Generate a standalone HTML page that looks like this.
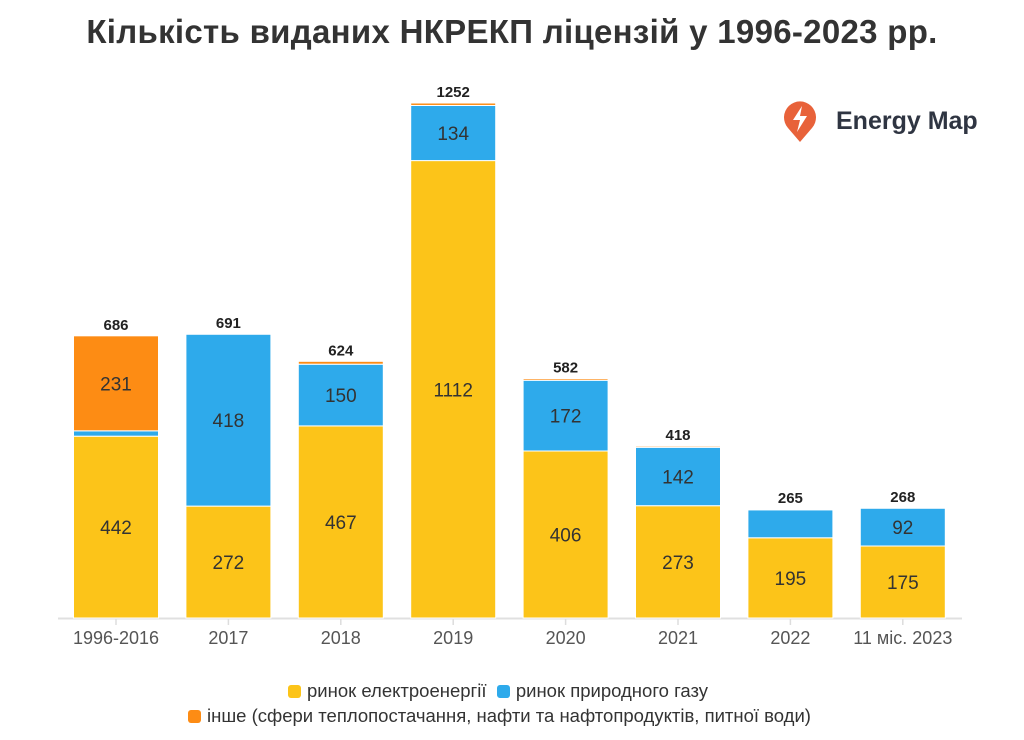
<!DOCTYPE html>
<html><head><meta charset="utf-8"><style>
body{margin:0;width:1024px;height:740px;background:#fff;font-family:"Liberation Sans","DejaVu Sans",sans-serif;overflow:hidden}
#title{position:absolute;top:13px;left:0;width:1024px;text-align:center;font-size:33px;font-weight:bold;color:#333;letter-spacing:0.3px}
#logo{position:absolute;left:782px;top:98px;display:flex;align-items:center}
#logo span{font-size:25px;color:#2f3542;margin-left:18px;font-weight:bold}
.leg{position:absolute;font-size:18.5px;color:#333;display:flex;align-items:center;white-space:nowrap}
.sw{width:13px;height:13px;border-radius:3px;margin-right:6px;display:inline-block}
</style></head><body>
<div id="title">Кількість виданих НКРЕКП ліцензій у 1996-2023 рр.</div>
<div id="logo">
<svg width="36" height="46" viewBox="0 0 36 46"><path d="M18 44 L6 30 A16 16 0 1 1 30 30 Z" fill="#e8623a"/><path d="M20 8 L11 22 H18 L15 34 L25 18 H18 Z" fill="#fff"/></svg>
<span>Energy Map</span></div>
<svg id="chart" width="1024" height="740" style="position:absolute;left:0;top:0"></svg>
<div class="leg" style="left:288px;top:680px">
<span class="sw" style="background:#fcc419"></span>ринок електроенергії&nbsp;&nbsp;<span class="sw" style="background:#2eaaeb"></span>ринок природного газу</div>
<div class="leg" style="left:188px;top:705px">
<span class="sw" style="background:#fd8c14"></span>інше (сфери теплопостачання, нафти та нафтопродуктів, питної води)</div>
<script>
const categories=["1996-2016","2017","2018","2019","2020","2021","2022","11 міс. 2023"];
const electricity=[442,272,467,1112,406,273,195,175];
const gas=[13,418,150,134,172,142,68,92];
const other=[231,1,7,6,4,3,2,1];
const totals=[686,691,624,1252,582,418,265,268];
const svg=document.getElementById('chart');const NS='http://www.w3.org/2000/svg';
const base=618,scale=515/1252,x0=116,step=112.4,bw=85;
const y=v=>base-v*scale;const xc=i=>x0+i*step;
function mk(t,a){const e=document.createElementNS(NS,t);for(const k in a)e.setAttribute(k,a[k]);svg.appendChild(e);return e;}
const axis=mk('line',{x1:58,x2:962,y1:base+0.5,y2:base+0.5,stroke:'#e0e0e0','stroke-width':2});


const series=[[electricity,'#fcc419','electricity'],[gas,'#2eaaeb','gas'],[other,'#fd8c14','other']];
categories.forEach((c,i)=>{
 let cum=0;
 series.forEach(([arr,col,nm])=>{
  const v=arr[i];const top=y(cum+v),bot=y(cum);
  const r=mk('rect',{x:xc(i)-bw/2,y:top,width:bw,height:Math.max(bot-top,0),fill:col,stroke:'#fff','stroke-width':1});
  
  
  if(v>=85){const t=mk('text',{x:xc(i),y:(top+bot)/2+7,'text-anchor':'middle','font-size':19,fill:'#333'});t.textContent=v;
   
   }
  cum+=v;
 });
 const tt=mk('text',{x:xc(i),y:y(cum)-6,'text-anchor':'middle','font-size':15,'font-weight':'bold',fill:'#222'});tt.textContent=totals[i];
 
 
 const tk=mk('line',{x1:xc(i),x2:xc(i),y1:base+1,y2:base+7,stroke:'#ddd','stroke-width':1.5});
 
 
 const lb=mk('text',{x:xc(i),y:base+26,'text-anchor':'middle','font-size':18,fill:'#555'});lb.textContent=c;
 
 
});
</script>
</body></html>
